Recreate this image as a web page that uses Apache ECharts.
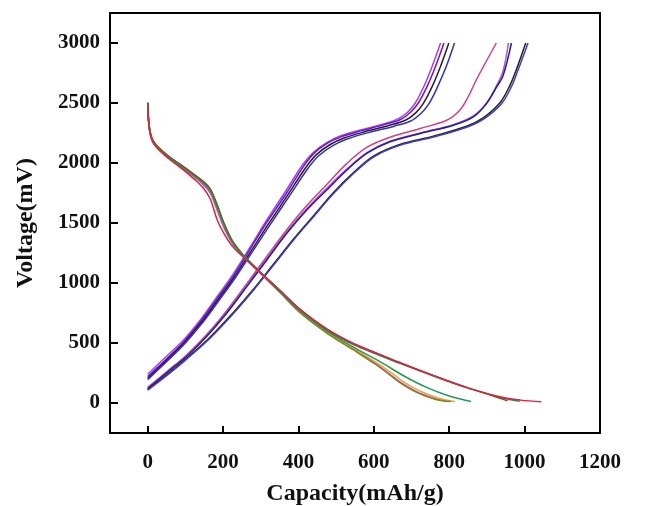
<!DOCTYPE html>
<html>
<head>
<meta charset="utf-8">
<script src="https://cdn.jsdelivr.net/npm/echarts@6.0.0/dist/echarts.min.js"></script>
<style>
html,body{margin:0;padding:0;background:#fff;}
#chart{width:650px;height:506px;}
</style>
</head>
<body>
<div id="chart"></div>
<script>
// ---- tick labels ----
var xTicks = [0, 200, 400, 600, 800, 1000, 1200];
var yTicks = [0, 500, 1000, 1500, 2000, 2500, 3000];

// ---- charge curves [capacity mAh/g, voltage mV] ----
var chargeViolet = [[0,240],[50,390],[95,525],[139,690],[184,885],[228,1080],[272,1300],[316,1525],[368,1775],[412,1990],[440,2090],[475,2170],[511,2225],[564,2275],[625,2325],[665,2370],[690,2425],[710,2500],[733,2640],[754,2800],[777,3000]];
var chargePurple = [[0,220],[51,370],[95,508],[139,675],[184,868],[228,1062],[272,1283],[316,1505],[369,1752],[413,1970],[441,2080],[476,2163],[513,2218],[568,2270],[630,2322],[672,2365],[698,2425],[718,2500],[741,2636],[763,2800],[786,3000]];
var chargeBlack1 = [[0,205],[51,358],[96,498],[140,662],[186,858],[230,1050],[275,1270],[320,1490],[373,1740],[418,1956],[447,2068],[483,2152],[521,2208],[578,2262],[642,2314],[685,2358],[711,2418],[731,2495],[754,2632],[776,2798],[799,3000]];
var chargeBlue1 = [[0,195],[52,350],[97,490],[142,655],[188,850],[232,1042],[278,1262],[324,1482],[377,1730],[423,1946],[453,2058],[490,2143],[529,2200],[588,2255],[654,2307],[698,2350],[724,2410],[745,2488],[768,2628],[791,2795],[814,3000]];
var chargePink = [[0,130],[51,262],[104,402],[157,572],[210,772],[263,995],[316,1222],[370,1448],[422,1645],[475,1820],[528,1995],[581,2130],[643,2215],[723,2288],[793,2356],[828,2440],[850,2550],[873,2700],[925,3000]];
var chargeMagenta = [[0,125],[51,258],[104,398],[157,565],[210,760],[263,982],[316,1205],[370,1428],[422,1620],[475,1790],[531,1958],[585,2092],[646,2185],[726,2252],[813,2322],[864,2392],[899,2500],[925,2640],[943,2770],[957,3000]];
var chargeNavy = [[0,118],[51,252],[104,390],[157,556],[210,750],[263,970],[316,1192],[369,1414],[422,1608],[475,1775],[528,1940],[581,2080],[643,2177],[723,2246],[811,2315],[864,2384],[899,2495],[925,2630],[943,2730],[965,3000]];
var chargeBlack2 = [[0,112],[51,236],[104,375],[166,550],[228,757],[281,950],[334,1158],[387,1366],[440,1560],[493,1754],[546,1920],[599,2058],[669,2155],[758,2224],[846,2306],[890,2376],[934,2500],[960,2640],[978,2778],[1003,3000]];
var chargeBlue2 = [[0,108],[51,230],[104,368],[166,542],[228,748],[281,942],[334,1150],[387,1358],[440,1552],[493,1745],[546,1912],[599,2050],[669,2147],[758,2216],[846,2298],[892,2368],[938,2492],[964,2630],[982,2770],[1009,3000]];

// ---- discharge curves ----
var dischMagenta = [[0,2503],[5,2276],[16,2165],[51,2054],[87,1971],[122,1888],[148,1819],[166,1750],[184,1611],[201,1473],[224,1335],[254,1224],[298,1085],[352,919],[405,753],[475,587],[546,448],[603,330],[640,245],[669,175],[714,92],[760,38],[795,12]];
var dischOrange = [[0,2500],[5,2280],[16,2170],[51,2060],[87,1978],[122,1896],[148,1830],[166,1765],[184,1630],[201,1490],[224,1345],[254,1228],[298,1088],[352,922],[405,756],[475,592],[546,455],[605,340],[645,255],[675,185],[722,100],[770,42],[815,12]];
var dischOlive = [[0,2498],[5,2284],[16,2176],[51,2066],[87,1985],[122,1905],[148,1842],[166,1780],[184,1650],[201,1505],[224,1352],[254,1230],[298,1086],[352,918],[405,750],[475,583],[546,442],[603,325],[640,240],[669,170],[714,88],[762,32],[805,12]];
var dischGreen = [[0,2500],[5,2282],[16,2172],[51,2062],[87,1980],[122,1900],[148,1836],[166,1772],[184,1640],[201,1498],[224,1348],[254,1230],[298,1090],[352,928],[405,765],[475,600],[546,465],[616,345],[680,225],[740,130],[800,58],[858,12]];
var dischBrown = [[0,2500],[5,2285],[16,2178],[51,2068],[87,1988],[122,1908],[148,1845],[166,1785],[184,1655],[201,1510],[224,1355],[254,1232],[298,1094],[352,935],[405,778],[475,615],[546,492],[616,402],[669,335],[758,228],[846,130],[905,70],[955,18]];
var dischGreen2 = [[0,2500],[5,2280],[16,2170],[51,2060],[87,1978],[122,1898],[148,1834],[166,1770],[184,1635],[201,1495],[224,1346],[254,1228],[298,1092],[352,932],[405,772],[475,608],[546,486],[616,396],[669,330],[758,225],[846,128],[934,48],[987,14]];
var dischRed = [[0,2505],[5,2270],[16,2160],[51,2048],[87,1962],[122,1870],[148,1790],[166,1700],[184,1530],[201,1420],[224,1310],[254,1215],[298,1090],[352,935],[405,778],[475,617],[546,496],[616,405],[669,338],[758,230],[846,130],[934,52],[990,24],[1044,10]];

var seriesDefs = [
  [chargeViolet, '#a040ff'],
  [chargePurple, '#7a10c8'],
  [chargeBlack1, '#222222'],
  [chargeBlue1, '#3030c0'],
  [chargePink, '#d04080'],
  [chargeMagenta, '#b050e0'],
  [chargeNavy, '#202090'],
  [chargeBlack2, '#222222'],
  [chargeBlue2, '#3a3ad0'],
  [dischMagenta, '#d030c0'],
  [dischOrange, '#f0a040'],
  [dischOlive, '#7a8a20'],
  [dischGreen, '#229955'],
  [dischBrown, '#8a4a20'],
  [dischGreen2, '#2a8a50'],
  [dischRed, '#e02040']
];

var series = seriesDefs.map(function (d) {
  return {
    type: 'line',
    data: d[0],
    smooth: 0.35,
    showSymbol: false,
    symbol: 'none',
    lineStyle: { color: d[1], width: 1.5 },
    z: 2
  };
});

var fontFam = '"Liberation Serif", "Times New Roman", serif';
var plain = function (v) { return String(v); };
var chart = echarts.init(document.getElementById('chart'), null, { renderer: 'canvas' });
chart.setOption({
  animation: false,
  backgroundColor: '#ffffff',
  grid: {
    left: 110, right: 50, top: 13, bottom: 73,
    containLabel: false,
    outerBoundsMode: 'none',
    show: true, borderColor: '#000', borderWidth: 2, backgroundColor: 'transparent'
  },
  xAxis: {
    type: 'value',
    min: -100, max: 1200,
    name: 'Capacity(mAh/g)',
    nameLocation: 'middle',
    nameGap: 49,
    nameTextStyle: { fontFamily: fontFam, fontWeight: 'bold', fontSize: 24, color: '#111' },
    axisLine: { show: true, onZero: false, lineStyle: { color: '#000', width: 2 } },
    axisTick: { show: true, inside: true, length: 7, lineStyle: { color: '#000', width: 2 }, customValues: xTicks },
    axisLabel: { fontFamily: fontFam, fontWeight: 'bold', fontSize: 21, color: '#111', margin: 19, customValues: xTicks, formatter: plain },
    splitLine: { show: false }
  },
  yAxis: {
    type: 'value',
    min: -250, max: 3250,
    name: 'Voltage(mV)',
    nameLocation: 'middle',
    nameGap: 72,
    nameTextStyle: { fontFamily: fontFam, fontWeight: 'bold', fontSize: 24, color: '#111' },
    axisLine: { show: true, onZero: false, lineStyle: { color: '#000', width: 2 } },
    axisTick: { show: true, inside: true, length: 8, lineStyle: { color: '#000', width: 2 }, customValues: yTicks },
    axisLabel: { fontFamily: fontFam, fontWeight: 'bold', fontSize: 21, color: '#111', margin: 10, customValues: yTicks, formatter: plain },
    splitLine: { show: false }
  },
  series: series
});
</script>
</body>
</html>
